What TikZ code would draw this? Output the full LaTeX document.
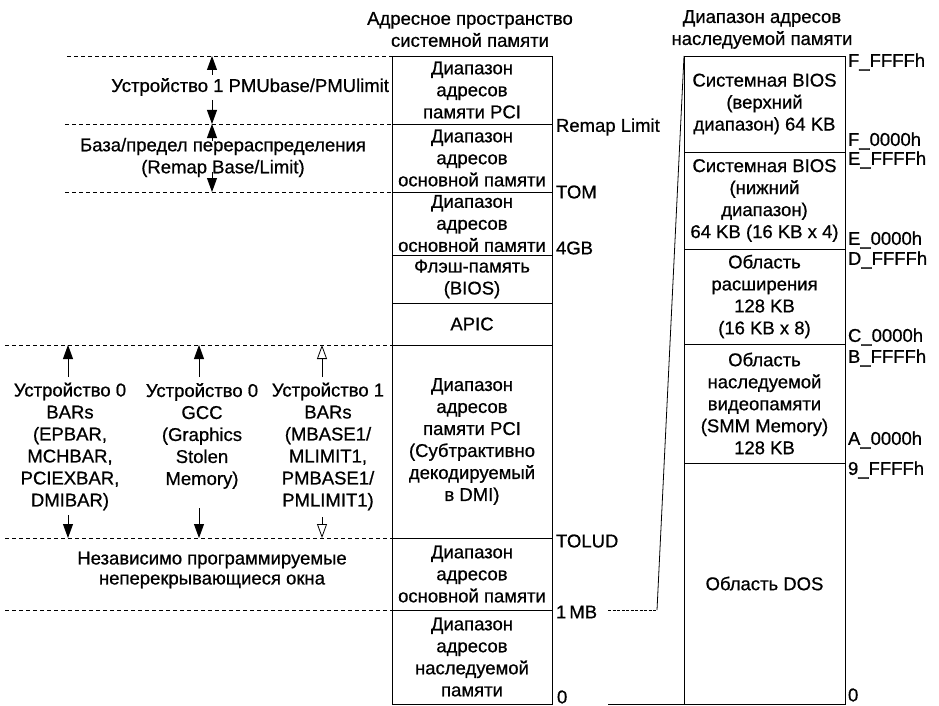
\documentclass[tikz,border=0pt]{standalone}
\usepackage{fontspec}
\setmainfont{Liberation Sans}[FakeBold=0.7]
\usetikzlibrary{arrows.meta}
\begin{document}
\begin{tikzpicture}[x=1pt,y=-1pt,
  every node/.style={font=\fontsize{18.5}{22}\selectfont, inner sep=0pt, outer sep=0pt},
  cell/.style={draw, line width=0.8pt, align=center, anchor=north west},
  mcell/.style={cell, minimum width=160pt},
  rcell/.style={cell, minimum width=161pt},
  lbl/.style={anchor=west},
  guide/.style={line width=0.8pt, dash pattern=on 4pt off 3pt},
  arr/.style={line width=0.8pt, -{Triangle[width=10pt,length=14pt]}},
  oarr/.style={line width=0.8pt, -{Triangle[open,width=10pt,length=14pt]}}
]
\path[use as bounding box] (0,0) rectangle (939,706);

% titles
\node[align=center] (t1) at (470,29.5) {Адресное пространство\\системной памяти};
\node[align=center] (t2) at (762,29.5) {Диапазон адресов\\наследуемой памяти};

% middle column
\node[mcell, minimum height=68pt] (m1) at (392,56) {Диапазон\\адресов\\памяти PCI};
\node[mcell, minimum height=68pt] (m2) at (392,124) {Диапазон\\адресов\\основной памяти};
\node[mcell, minimum height=63pt] (m3) at (392,192) {Диапазон\\адресов\\основной памяти};
\node[mcell, minimum height=48pt] (m4) at (392,255) {Флэш-память\\(BIOS)};
\node[mcell, minimum height=42pt] (m5) at (392,303) {APIC};
\node[mcell, minimum height=193pt] (m6) at (392,345) {Диапазон\\адресов\\памяти PCI\\(Субтрактивно\\декодируемый\\в DMI)};
\node[mcell, minimum height=72pt] (m7) at (392,538) {Диапазон\\адресов\\основной памяти};
\node[mcell, minimum height=94pt] (m8) at (392,610) {Диапазон\\адресов\\наследуемой\\памяти};

% middle labels
\node[lbl] (remap) at (556,127) {Remap Limit};
\node[lbl] (tom) at (556,192) {TOM};
\node[lbl] (g4) at (556,248) {4GB};
\node[lbl] (tolud) at (556,541) {TOLUD};
\node[lbl] (mb) at (556,612) {1\,MB};
\node[lbl] (z1) at (557,697) {0};

% right column
\node[rcell, minimum height=96pt] (r1) at (684,56) {Системная BIOS\\(верхний\\диапазон) 64 KB};
\node[rcell, minimum height=97pt] (r2) at (684,152) {Системная BIOS\\(нижний\\диапазон)\\64 KB (16 KB x 4)};
\node[rcell, minimum height=95pt] (r3) at (684,249) {Область\\расширения\\128 KB\\(16 KB x 8)};
\node[rcell, minimum height=119pt] (r4) at (684,344) {Область\\наследуемой\\видеопамяти\\(SMM Memory)\\128 KB};
\node[rcell, minimum height=241pt] (r5) at (684,463) {Область DOS};

% right labels
\node[lbl] (h1) at (848,62) {F\_FFFFh};
\node[lbl] (h2) at (848,141) {F\_0000h};
\node[lbl] (h3) at (848,160) {E\_FFFFh};
\node[lbl] (h4) at (848,240) {E\_0000h};
\node[lbl] (h5) at (848,260) {D\_FFFFh};
\node[lbl] (h6) at (848,337) {C\_0000h};
\node[lbl] (h7) at (848,358) {B\_FFFFh};
\node[lbl] (h8) at (848,440) {A\_0000h};
\node[lbl] (h9) at (848,470) {9\_FFFFh};
\node[lbl] (z2) at (848,695) {0};

% connectors between columns
\coordinate (k0) at (608,610);
\coordinate (k1) at (657,610);
\draw[line width=0.8pt, dash pattern=on 3pt off 1.5pt] (k0) -- (k1);
\draw[line width=0.8pt] (k1) -- (r1.north west);
\coordinate (b0) at (608,704);
\draw[line width=0.8pt] (b0) -- (r5.south west);

% left guide lines
\coordinate (g1) at (67,56);
\coordinate (g2) at (65,124);
\coordinate (g3) at (65,192);
\coordinate (g4) at (5,345);
\coordinate (g5) at (5,538);
\coordinate (g6) at (5,610);
\draw[guide] (g1) -- (m1.north west);
\draw[guide] (g2) -- (m2.north west);
\draw[guide] (g3) -- (m3.north west);
\draw[guide] (g4) -- (m6.north west);
\draw[guide] (g5) -- (m7.north west);
\draw[guide] (g6) -- (m8.north west);

% top-left labels and arrows
\node[anchor=east] (l1) at (389,87) {Устройство 1 PMUbase/PMUlimit};
\node[align=center] (l2) at (223,157.5) {База/предел перераспределения\\(Remap Base/Limit)};
\coordinate (u1s) at (212,75);  \coordinate (u1e) at (212,56);
\coordinate (u2s) at (212,100); \coordinate (u2e) at (212,124);
\coordinate (u3s) at (212,141); \coordinate (u3e) at (212,124);
\coordinate (u4s) at (212,172); \coordinate (u4e) at (212,192);
\draw[arr] (u1s) -- (u1e);
\draw[arr] (u2s) -- (u2e);
\draw[arr] (u3s) -- (u3e);
\draw[arr] (u4s) -- (u4e);

% lower-left labels and arrows
\node[align=center] (c1) at (70,446.5) {Устройство 0\\BARs\\(EPBAR,\\MCHBAR,\\PCIEXBAR,\\DMIBAR)};
\node[align=center] (c2) at (202,436) {Устройство 0\\GCC\\(Graphics\\Stolen\\Memory)};
\node[align=center] (c3) at (328,446.5) {Устройство 1\\BARs\\(MBASE1/\\MLIMIT1,\\PMBASE1/\\PMLIMIT1)};
\coordinate (d1a) at (68,377);  \coordinate (d1b) at (68,345);
\coordinate (d1c) at (68,515);  \coordinate (d1d) at (68,538);
\coordinate (d2a) at (199,377); \coordinate (d2b) at (199,345);
\coordinate (d2c) at (199,508); \coordinate (d2d) at (199,538);
\coordinate (d3a) at (322,377); \coordinate (d3b) at (322,345);
\coordinate (d3c) at (322,517); \coordinate (d3d) at (322,538);
\draw[arr] (d1a) -- (d1b);
\draw[arr] (d1c) -- (d1d);
\draw[arr] (d2a) -- (d2b);
\draw[arr] (d2c) -- (d2d);
\draw[oarr] (d3a) -- (d3b);
\draw[oarr] (d3c) -- (d3d);

\node[align=center] (win) at (212,570) {Независимо программируемые\\[-2pt]неперекрывающиеся окна};
\end{tikzpicture}
\end{document}
